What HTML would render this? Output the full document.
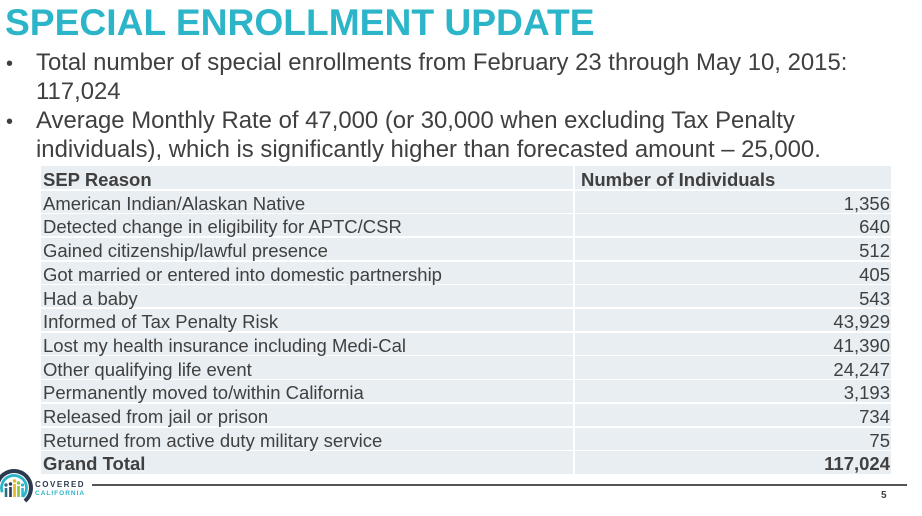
<!DOCTYPE html>
<html><head><meta charset="utf-8">
<style>
html,body{margin:0;padding:0;background:#fff;}
body{width:922px;height:516px;position:relative;overflow:hidden;font-family:"Liberation Sans",Arial,sans-serif;color:#404040;}
.title{position:absolute;left:5px;top:0px;font-size:37.2px;font-weight:bold;color:#2cb5c9;line-height:44px;white-space:nowrap;}
.bl{position:absolute;left:36px;font-size:23.9px;line-height:29px;white-space:nowrap;color:#404040;}
.dot{position:absolute;left:6px;font-size:20px;line-height:29px;color:#404040;}
.tbl{position:absolute;left:41px;top:166px;width:850px;height:308px;background:#e8eef2;}
.row{position:absolute;left:41px;width:850px;height:23.7px;font-size:18.5px;line-height:23.7px;white-space:nowrap;}
.row .a{position:absolute;left:2px;top:2px;}
.row .b{position:absolute;right:1px;top:2px;}
.row .h2{position:absolute;left:540px;top:2px;}
.sep{position:absolute;left:41px;width:850px;height:1.5px;background:#fff;}
.vsep{position:absolute;left:573px;top:166px;width:1.5px;height:308px;background:#fff;}
b{font-weight:bold;}
</style></head><body>
<div class="title">SPECIAL ENROLLMENT UPDATE</div>

<div class="dot" style="top:50px">•</div>
<div class="bl" style="top:48px">Total number of special enrollments from February 23 through May 10, 2015:</div>
<div class="bl" style="top:77px">117,024</div>
<div class="dot" style="top:108px">•</div>
<div class="bl" style="top:106px">Average Monthly Rate of 47,000 (or 30,000 when excluding Tax Penalty</div>
<div class="bl" style="top:135px">individuals), which is significantly higher than forecasted amount – 25,000.</div>

<div class="tbl"></div>
<div class="sep" style="top:189px"></div>
<div class="sep" style="top:212.7px"></div>
<div class="sep" style="top:236.4px"></div>
<div class="sep" style="top:260px"></div>
<div class="sep" style="top:283.7px"></div>
<div class="sep" style="top:307.4px"></div>
<div class="sep" style="top:331px"></div>
<div class="sep" style="top:354.8px"></div>
<div class="sep" style="top:378.5px"></div>
<div class="sep" style="top:402.2px"></div>
<div class="sep" style="top:426px"></div>
<div class="sep" style="top:449.6px"></div>
<div class="vsep"></div>

<div class="row" style="top:166px"><span class="a"><b>SEP Reason</b></span><span class="h2"><b>Number of Individuals</b></span></div>
<div class="row" style="top:189.7px"><span class="a">American Indian/Alaskan Native</span><span class="b">1,356</span></div>
<div class="row" style="top:213.4px"><span class="a">Detected change in eligibility for APTC/CSR</span><span class="b">640</span></div>
<div class="row" style="top:237.1px"><span class="a">Gained citizenship/lawful presence</span><span class="b">512</span></div>
<div class="row" style="top:260.8px"><span class="a">Got married or entered into domestic partnership</span><span class="b">405</span></div>
<div class="row" style="top:284.5px"><span class="a">Had a baby</span><span class="b">543</span></div>
<div class="row" style="top:308.2px"><span class="a">Informed of Tax Penalty Risk</span><span class="b">43,929</span></div>
<div class="row" style="top:331.9px"><span class="a">Lost my health insurance including Medi-Cal</span><span class="b">41,390</span></div>
<div class="row" style="top:355.6px"><span class="a">Other qualifying life event</span><span class="b">24,247</span></div>
<div class="row" style="top:379.3px"><span class="a">Permanently moved to/within California</span><span class="b">3,193</span></div>
<div class="row" style="top:403px"><span class="a">Released from jail or prison</span><span class="b">734</span></div>
<div class="row" style="top:426.7px"><span class="a">Returned from active duty military service</span><span class="b">75</span></div>
<div class="row" style="top:450.4px"><span class="a"><b>Grand Total</b></span><span class="b"><b>117,024</b></span></div>

<div style="position:absolute;left:92px;top:484px;width:815px;height:1.5px;background:#555;"></div>
<div style="position:absolute;left:881px;top:490px;font-size:10px;font-weight:bold;color:#404040;">5</div>

<svg style="position:absolute;left:0;top:462px" width="34" height="50" viewBox="0 0 34 50">
  <path d="M-2 31.8 A17 17 0 1 1 24.9 39" fill="none" stroke="#2a3b4f" stroke-width="4"/>
  <path d="M2.25 30.3 A12.5 12.5 0 1 1 22.8 34.8" fill="none" stroke="#2cb5c9" stroke-width="2.8"/>
  <circle cx="6" cy="23" r="1.7" fill="#2a6f86"/><rect x="4.7" y="26" width="2.6" height="9" fill="#2a6f86"/>
  <circle cx="10.5" cy="22" r="1.7" fill="#2a3b4f"/><rect x="9.2" y="25" width="2.6" height="10" fill="#2a3b4f"/>
  <circle cx="14.5" cy="19" r="1.8" fill="#e8b82c"/><rect x="13.2" y="22" width="2.7" height="13" fill="#e8b82c"/>
  <circle cx="18.5" cy="21" r="1.7" fill="#8cc63f"/><rect x="17.2" y="24" width="2.6" height="11" fill="#8cc63f"/>
  <circle cx="22.5" cy="23" r="1.6" fill="#2cb5c9"/><rect x="21.3" y="26" width="2.5" height="9" fill="#2cb5c9"/>
</svg>
<div style="position:absolute;left:35px;top:480px;font-size:8px;font-weight:bold;letter-spacing:1.5px;color:#2a3b4f;line-height:9px;">COVERED</div>
<div style="position:absolute;left:35px;top:490px;font-size:6.5px;font-weight:bold;letter-spacing:1.0px;color:#2cb5c9;line-height:8px;">CALIFORNIA</div>
</body></html>
